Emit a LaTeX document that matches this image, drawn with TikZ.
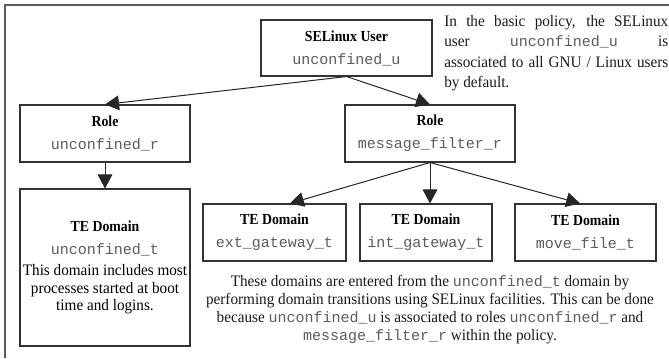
\documentclass[tikz,border=0pt]{standalone}
\usepackage{fontspec}
\setmainfont{Liberation Serif}[FakeStretch=0.95]
\setmonofont{Liberation Mono}
\newfontfamily\titlefont{Liberation Serif}[FakeStretch=0.9]
\usepackage{xcolor}
\usepackage{tikz}
\usetikzlibrary{arrows.meta}
\definecolor{framegray}{HTML}{5A5A5A}
\definecolor{boxgray}{HTML}{333333}
\definecolor{idgray}{HTML}{5C5C5C}
\newcommand{\idname}[1]{{\ttfamily\fontsize{11.25}{13}\selectfont\textcolor{idgray}{#1}}}
\newcommand{\heading}[1]{{\titlefont\bfseries\fontsize{11.5}{13}\selectfont #1}}

\begin{document}
\begin{tikzpicture}[x=0.75pt,y=-0.75pt]

\tikzset{entity/.style={
    draw=boxgray, line width=0.8pt, fill=white, align=center,
    inner sep=0pt, minimum height=#1, font=\fontsize{12}{13}\selectfont
  }, entity/.default=42.75pt,
  link/.style={-{Triangle[length=10.5pt,width=11pt]}, line width=0.75pt, draw=black!85},
  remark/.style={inner sep=0pt, text=black!90}
}
\useasboundingbox (0,0) rectangle (669,358);
\draw[framegray, line width=1.2pt] (669,5) -- (5,5) -- (5,358);

\node[entity=42pt, minimum width=128.25pt] (user) at (346.5,48)
  {\heading{SELinux User}\\[4.25pt]\idname{unconfined\_u}};
\node[entity, minimum width=127.5pt] (role_u) at (105,133.5)
  {\heading{Role}\\[4.25pt]\idname{unconfined\_r}};
\node[entity, minimum width=127.5pt] (role_m) at (430,133.5)
  {\heading{Role}\\[4.25pt]\idname{message\_filter\_r}};
\node[entity=117.75pt, minimum width=127.5pt] (dom_u) at (105,267.5)
  {\heading{TE Domain}\\[4.25pt]\idname{unconfined\_t}\\[3pt]
   This domain includes most\\processes started at boot\\time and logins.};
\node[entity, minimum width=107.25pt] (dom_ext) at (274.5,232.5)
  {\heading{TE Domain}\\[4.25pt]\idname{ext\_gateway\_t}};
\node[entity, minimum width=99pt] (dom_int) at (426,232.5)
  {\heading{TE Domain}\\[4.25pt]\idname{int\_gateway\_t}};
\node[entity, minimum width=105.75pt] (dom_move) at (585.5,232.5)
  {\heading{TE Domain}\\[4.25pt]\idname{move\_file\_t}};

\node[remark, text width=168pt, align=justify, anchor=north west,
  font=\fontsize{12}{15.25}\selectfont] (policy) at (444,15)
  {In the basic policy, the SELinux\linebreak
   user \idname{unconfined\_u} is\linebreak
   associated to all GNU / Linux users\linebreak
   by default.};
\node[remark, align=center, font=\fontsize{12}{13.5}\selectfont] (transit) at (430,310)
  {These domains are entered from the \idname{unconfined\_t} domain by\\
   performing domain transitions using SELinux facilities. This can be done\\
   because \idname{unconfined\_u} is associated to roles \idname{unconfined\_r} and\\
   \idname{message\_filter\_r} within the policy.};

\draw[link] (user.south) -- (role_u.north);
\draw[link] (user.south) -- (role_m.north);
\draw[link] (role_u.south) -- (dom_u.north);
\draw[link] (role_m.south) -- ([xshift=11.5pt]dom_ext.north);
\draw[link] (role_m.south) -- ([xshift=3pt]dom_int.north);
\draw[link] (role_m.south) -- ([xshift=-4pt]dom_move.north);
\end{tikzpicture}
\end{document}
